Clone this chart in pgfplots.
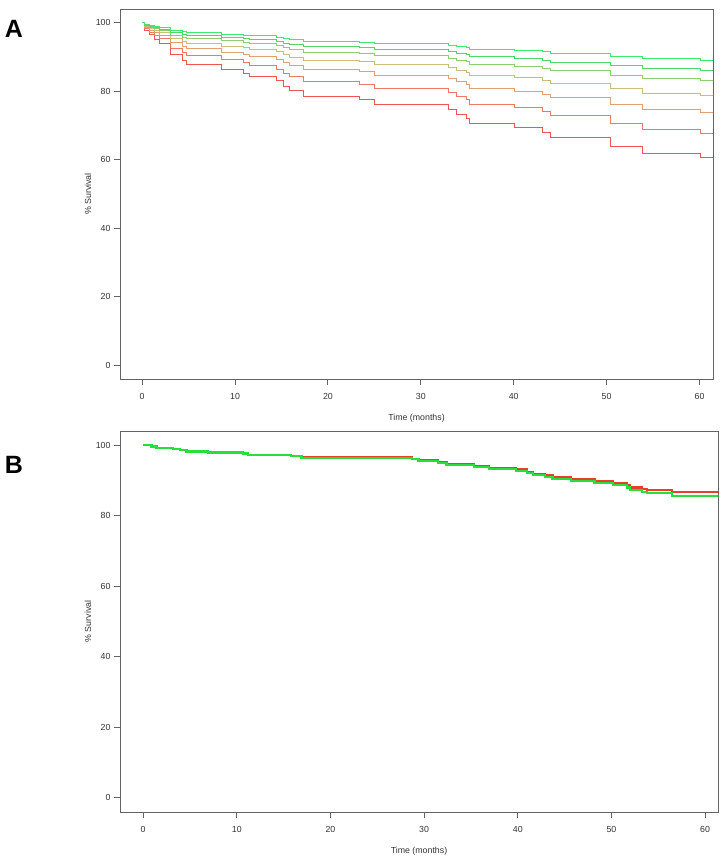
\documentclass[border=0pt]{standalone}
\usepackage{fontspec}
\setmainfont{Liberation Sans}
\usepackage{pgfplots}
\usepackage{pgfplotstable}
\pgfplotsset{compat=1.18}

\pgfplotstableread{
t s1 s2 s3 s4 s5 s6 s7
0     100 100 100 100 100 100 100
0.3   99.49 99.33 99.18 98.94 98.65 98.28 97.8
0.78  99.18 98.94 98.68 98.31 97.85 97.26 96.5
1.31  98.88 98.53 98.19 97.68 97.04 96.24 95.2
1.85  98.59 98.16 97.72 97.09 96.30 95.29 94.0
3.0   97.75 97.08 96.39 95.39 94.16 92.59 90.6
4.37  97.36 96.56 95.76 94.58 93.14 91.31 89.0
4.8   97.05 96.17 95.28 93.97 92.37 90.35 87.8
8.57  96.67 95.68 94.67 93.20 91.40 89.14 86.3
10.9  96.38 95.31 94.22 92.63 90.69 88.26 85.2
11.6  96.15 95.01 93.84 92.16 90.11 87.53 84.3
14.5  95.80 94.56 93.30 91.48 89.26 86.47 83.0
15.2  95.40 94.05 92.67 90.68 88.27 85.25 81.5
15.9  95.05 93.59 92.12 89.99 87.41 84.19 80.2
17.4  94.58 93.00 91.39 89.07 86.27 82.79 78.5
23.4  94.33 92.67 91.00 88.58 85.67 82.05 77.6
24.96 93.91 92.13 90.34 87.76 84.65 80.81 76.1
32.96 93.48 91.58 89.67 86.93 83.63 79.57 74.6
33.8  93.11 91.10 89.09 86.20 82.74 78.48 73.3
34.9  92.75 90.65 88.54 85.52 81.91 77.48 72.1
35.2  92.31 90.08 87.85 84.67 80.87 76.22 70.6
40.1  91.91 89.58 87.25 83.92 79.95 75.12 69.3
43.1  91.51 89.07 86.63 83.16 79.04 74.02 68.0
44.0  91.07 88.52 85.97 82.34 78.04 72.83 66.6
50.4  90.21 87.43 84.65 80.73 76.09 70.52 63.9
53.9  89.52 86.56 83.61 79.45 74.56 68.70 61.8
60.05 89.12 86.05 83.00 78.71 73.67 67.66 60.6
62    89.12 86.05 83.00 78.71 73.67 67.66 60.6
}\dataA

\pgfplotstableread{
t red green
0     100   100
0.9   99.6  99.6
1.42  99.2  99.2
3.2   98.9  98.9
3.9   98.6  98.6
4.62  98.2  98.2
6.93  97.9  97.9
10.67 97.6  97.6
11.2  97.25 97.2
15.8  96.95 96.9
16.9  96.5  96.4
28.7  96.1  96.0
29.4  95.7  95.5
31.5  95.2  95.0
32.4  94.7  94.4
35.3  94.1  93.8
36.9  93.6  93.2
39.8  93.1  92.7
41.0  92.4  92.0
41.6  91.9  91.5
42.9  91.4  91.0
43.7  91.0  90.5
45.7  90.3  89.8
48.2  89.8  89.3
50.2  89.2  88.6
51.7  88.6  88.0
52.0  88.0  87.3
53.3  87.5  86.8
53.8  87.2  86.4
56.5  86.6  85.6
62    86.6  85.6
}\dataB

\definecolor{cA1}{RGB}{60,235,110}
\definecolor{cA2}{RGB}{80,215,105}
\definecolor{cA3}{RGB}{145,205,110}
\definecolor{cA4}{RGB}{200,190,120}
\definecolor{cA5}{RGB}{225,160,115}
\definecolor{cA6}{RGB}{240,120,105}
\definecolor{cA7}{RGB}{240,85,85}
\definecolor{cBred}{RGB}{232,64,40}
\definecolor{cBgreen}{RGB}{40,222,60}
\definecolor{axgray}{RGB}{100,100,100}
\definecolor{txtgray}{RGB}{50,50,50}

\pgfplotsset{
  km/.style={
    scale only axis,
    ymin=-4, ymax=104,
    xtick={0,10,...,60},
    ytick={0,20,...,100},
    tick align=outside,
    xtick pos=bottom, ytick pos=left,
    major tick length=6bp,
    axis line style={draw=axgray, line width=0.9bp},
    every tick/.style={draw=axgray, line width=0.9bp},
    tick label style={font=\fontsize{8.8bp}{10bp}\selectfont, text=txtgray},
    xticklabel style={yshift=-5bp},
    label style={font=\fontsize{8.8bp}{10bp}\selectfont, text=txtgray},
    /pgf/number format/assume math mode=true,
    xlabel={Time (months)},
    ylabel={\% Survival},
    clip=true,
  }
}

\begin{document}
\begin{tikzpicture}[x=1bp,y=1bp]
\useasboundingbox (0,0) rectangle (723,863);

\begin{axis}[km,
  at={(120bp,484bp)}, anchor=south west,
  width=593bp, height=370bp,
  xmin=-2.38, xmax=61.45,
  xlabel style={at={(axis description cs:0.5,-0.105)}, anchor=center},
  ylabel style={at={(axis description cs:-0.054,0.5)}, anchor=center},
]
\addplot[const plot, cA7, line width=0.9bp] table[x=t, y=s7] {\dataA};
\addplot[const plot, cA6, line width=0.9bp] table[x=t, y=s6] {\dataA};
\addplot[const plot, cA5, line width=0.9bp] table[x=t, y=s5] {\dataA};
\addplot[const plot, cA4, line width=0.9bp] table[x=t, y=s4] {\dataA};
\addplot[const plot, cA3, line width=0.9bp] table[x=t, y=s3] {\dataA};
\addplot[const plot, cA2, line width=0.9bp] table[x=t, y=s2] {\dataA};
\addplot[const plot, cA1, line width=0.9bp] table[x=t, y=s1] {\dataA};
\end{axis}

\begin{axis}[km,
  at={(120bp,51bp)}, anchor=south west,
  width=598bp, height=381bp,
  xmin=-2.47, xmax=61.38,
  xlabel style={at={(axis description cs:0.5,-0.102)}, anchor=center},
  ylabel style={at={(axis description cs:-0.0535,0.5)}, anchor=center},
]
\addplot[const plot, cBred, line width=2.2bp] table[x=t, y=red] {\dataB};
\addplot[const plot, cBgreen, line width=2.2bp] table[x=t, y=green] {\dataB};
\end{axis}

\node[font=\fontsize{25bp}{25bp}\selectfont\bfseries] at (14,834) {A};
\node[font=\fontsize{25bp}{25bp}\selectfont\bfseries] at (14,398) {B};
\end{tikzpicture}
\end{document}
